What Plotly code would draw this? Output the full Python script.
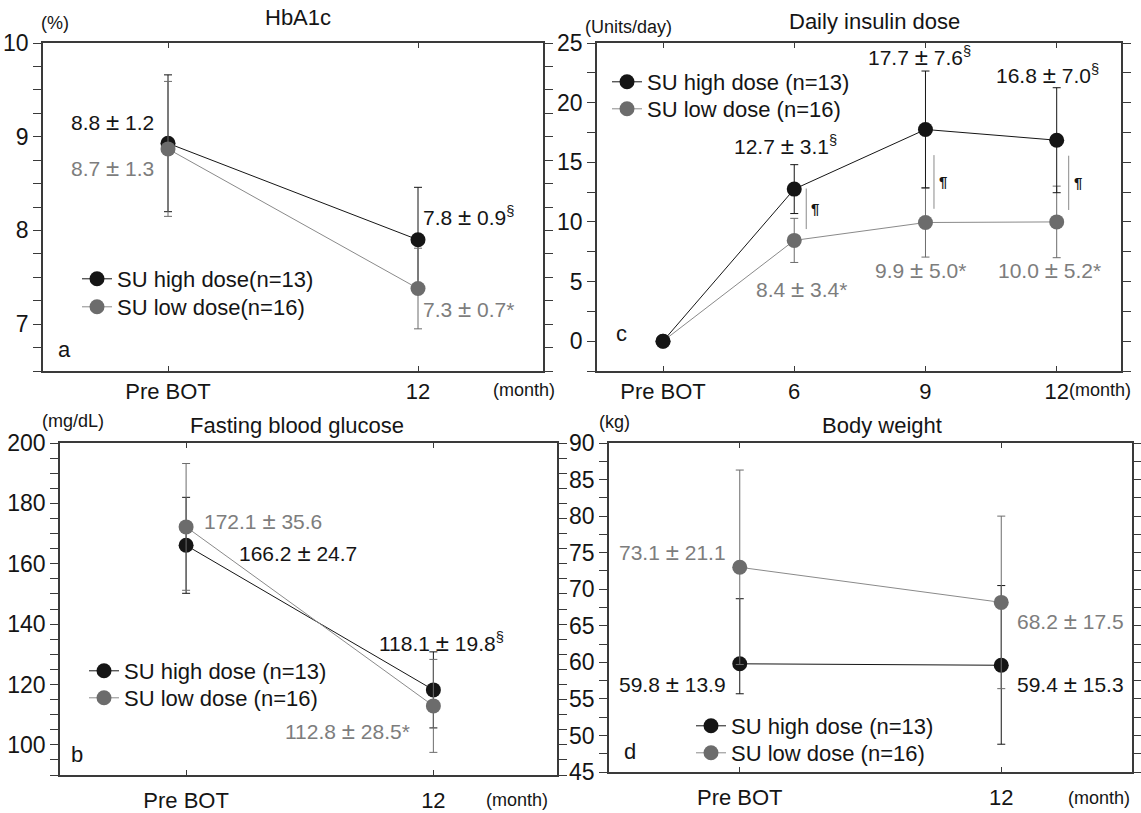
import plotly.graph_objects as go

# ---------------- data ----------------
cats_ab = ["Pre BOT", "12"]
cats_c = ["Pre BOT", "6", "9", "12"]

PM = ' <span style="font-size:24px">±</span> '

hba1c_high = [8.93, 7.90]
hba1c_high_sd = [0.73, 0.56]
hba1c_low = [8.87, 7.38]
hba1c_low_sd = [0.72, 0.43]
hba1c_high_lbl = ["8.8" + PM + "1.2", "7.8" + PM + "0.9<sup>§</sup>"]
hba1c_low_lbl = ["8.7" + PM + "1.3", "7.3" + PM + "0.7*"]

ins_high = [0.0, 12.75, 17.75, 16.85]
ins_high_sd = [0, 2.05, 4.9, 4.4]
ins_low = [0.0, 8.45, 9.95, 10.0]
ins_low_sd = [0, 1.85, 2.9, 3.0]
ins_high_lbl = ["12.7" + PM + "3.1<sup>§</sup>", "17.7" + PM + "7.6<sup>§</sup>",
                "16.8" + PM + "7.0<sup>§</sup>"]
ins_low_lbl = ["8.4" + PM + "3.4*", "9.9" + PM + "5.0*", "10.0" + PM + "5.2*"]
sig_x = [1, 2, 3]
sig_top = [12.8, 15.6, 15.55]
sig_bot = [9.4, 11.1, 11.0]

fbg_high = [166.1, 118.2]
fbg_high_sd = [15.9, 12.6]
fbg_low = [172.2, 112.9]
fbg_low_sd = [21.0, 15.4]
fbg_high_lbl = ["166.2" + PM + "24.7", "118.1" + PM + "19.8<sup>§</sup>"]
fbg_low_lbl = ["172.1" + PM + "35.6", "112.8" + PM + "28.5*"]

bw_high = [59.8, 59.6]
bw_high_sd_plus = [8.9, 10.9]
bw_high_sd_minus = [4.1, 10.8]
bw_low = [73.0, 68.2]
bw_low_sd = [13.3, 11.8]
bw_high_lbl = ["59.8" + PM + "13.9", "59.4" + PM + "15.3"]
bw_low_lbl = ["73.1" + PM + "21.1", "68.2" + PM + "17.5"]

# ---------------- style ----------------
W, H = 1141, 813
FONT = "Liberation Sans, Arial, Helvetica, sans-serif"
BLACK = "#151515"
GRAY = "#6c6c6c"
GRAY_TXT = "#7d7d7d"
LGRAY = "#8a8a8a"
AX = "#3a3a3a"


def px(x):
    return x / W


def py(y):
    return 1 - y / H


fig = go.Figure()


def add_series(n, y, sd, color, line_color, name, legend, sd_minus=None):
    xa = "x" if n == 1 else f"x{n}"
    ya = "y" if n == 1 else f"y{n}"
    ed = dict(type="data", array=sd, color=color, thickness=1, width=4, visible=True)
    if sd_minus is not None:
        ed.update(symmetric=False, arrayminus=sd_minus)
    fig.add_trace(go.Scatter(
        x=list(range(len(y))), y=y, mode="lines+markers", name=name,
        xaxis=xa, yaxis=ya,
        line=dict(color=line_color, width=1),
        marker=dict(size=15, color=color),
        error_y=ed, legend=legend, showlegend=True,
        hoverinfo="skip"))


# panel a (gray on top)
add_series(1, hba1c_high, hba1c_high_sd, BLACK, BLACK, "SU high dose(n=13)", "legend")
add_series(1, hba1c_low, hba1c_low_sd, GRAY, LGRAY, "SU low dose(n=16)", "legend2")
# panel c (black on top)
add_series(2, ins_low, ins_low_sd, GRAY, LGRAY, "SU low dose (n=16)", "legend4")
add_series(2, ins_high, ins_high_sd, BLACK, BLACK, "SU high dose (n=13)", "legend3")
# panel b
add_series(3, fbg_high, fbg_high_sd, BLACK, BLACK, "SU high dose (n=13)", "legend5")
add_series(3, fbg_low, fbg_low_sd, GRAY, LGRAY, "SU low dose (n=16)", "legend6")
# panel d
add_series(4, bw_high, bw_high_sd_plus, BLACK, BLACK, "SU high dose (n=13)", "legend7", bw_high_sd_minus)
add_series(4, bw_low, bw_low_sd, GRAY, LGRAY, "SU low dose (n=16)", "legend8")


def set_axes(n, xpix, ypix, xr, yr, dtick, minor, cats, standoff):
    sx = "" if n == 1 else str(n)
    fig.layout["xaxis" + sx] = dict(
        domain=[px(xpix[0]), px(xpix[1])], range=xr, anchor="y" + sx,
        tickmode="array", tickvals=list(range(len(cats))), ticktext=cats,
        ticks="inside", ticklen=5, tickwidth=1, tickcolor=AX,
        showline=True, linecolor=AX, linewidth=1.5, mirror="allticks",
        showgrid=False, zeroline=False, ticklabelstandoff=standoff,
        automargin=False,
        tickfont=dict(size=22, color=BLACK, family=FONT))
    fig.layout["yaxis" + sx] = dict(
        domain=[py(ypix[1]), py(ypix[0])], range=yr, anchor="x" + sx,
        dtick=dtick, tick0=0, ticks="outside", ticklen=8, tickwidth=1, tickcolor=AX,
        minor=dict(dtick=minor, tick0=0, ticks="outside", ticklen=8, tickwidth=1,
                   tickcolor=AX, showgrid=False),
        showline=True, linecolor=AX, linewidth=1.5, mirror="allticks",
        showgrid=False, zeroline=False, automargin=False,
        tickfont=dict(size=23, color=BLACK, family=FONT))


set_axes(1, (43, 543), (43, 371), [-0.5, 1.5], [6.5, 10], 1, 0.25, cats_ab, 0)
set_axes(2, (597, 1121), (43, 371), [-0.503, 3.49], [-2.5, 25], 5, 2.5, cats_c, 0)
set_axes(3, (60, 557), (443, 775), [-0.51, 1.5], [90, 200], 20, 5, cats_ab, 5)
set_axes(4, (609, 1132), (443, 772), [-0.5, 1.5], [45, 90], 5, 2.5, cats_ab, 5)


# legends: one entry each, placed by marker centre (pixels)
def legend(mx, my):
    return dict(x=px(mx - 20), y=py(my - 20), xanchor="left", yanchor="top",
                bgcolor="rgba(0,0,0,0)", borderwidth=0, itemwidth=30,
                font=dict(size=22, color=BLACK, family=FONT))


fig.update_layout(
    legend=legend(97, 278), legend2=legend(97, 306),
    legend3=legend(627, 81), legend4=legend(627, 108),
    legend5=legend(104, 670), legend6=legend(104, 697),
    legend7=legend(711, 725), legend8=legend(711, 752),
)

ann = []


def text(t, x, y, xanchor="left", color=BLACK, size=21):
    ann.append(dict(text=t, x=px(x), y=py(y), xref="paper", yref="paper",
                    xanchor=xanchor, yanchor="middle", showarrow=False,
                    font=dict(size=size, color=color, family=FONT)))


# titles
text("HbA1c", 298, 17, "center", BLACK, 22)
text("Daily insulin dose", 874, 22, "center", BLACK, 22)
text("Fasting blood glucose", 297, 425, "center", BLACK, 22)
text("Body weight", 882, 425, "center", BLACK, 22)
# units
text("(%)", 39, 23, "left", BLACK, 18)
text("(Units/day)", 583, 27, "left", BLACK, 18)
text("(mg/dL)", 40, 421, "left", BLACK, 18)
text("(kg)", 597, 422, "left", BLACK, 18)
text("(month)", 557, 390, "right", BLACK, 18)
text("(month)", 1133, 390, "right", BLACK, 18)
text("(month)", 550, 800, "right", BLACK, 18)
text("(month)", 1132, 798, "right", BLACK, 18)
# panel letters
text("a", 64, 350, "center", BLACK, 22)
text("c", 621, 333, "center", BLACK, 22)
text("b", 77, 754, "center", BLACK, 22)
text("d", 630, 751, "center", BLACK, 22)

# value labels panel a
text(hba1c_high_lbl[0], 156, 122, "right")
text(hba1c_low_lbl[0], 156, 168, "right", GRAY_TXT)
text(hba1c_high_lbl[1], 421, 217, "left")
text(hba1c_low_lbl[1], 421, 308, "left", GRAY_TXT)
# panel c
text(ins_high_lbl[0], 785, 145, "center")
text(ins_high_lbl[1], 919, 57, "center")
text(ins_high_lbl[2], 1047, 75, "center")
text(ins_low_lbl[0], 801, 288, "center", GRAY_TXT)
text(ins_low_lbl[1], 920, 270, "center", GRAY_TXT)
text(ins_low_lbl[2], 1049, 270, "center", GRAY_TXT)
# panel b
text(fbg_low_lbl[0], 202, 520, "left", GRAY_TXT)
text(fbg_high_lbl[0], 237, 552, "left")
text(fbg_high_lbl[1], 377, 642, "left")
text(fbg_low_lbl[1], 412, 730, "right", GRAY_TXT)
# panel d
text(bw_low_lbl[0], 728, 551, "right", GRAY_TXT)
text(bw_low_lbl[1], 1015, 620, "left", GRAY_TXT)
text(bw_high_lbl[0], 728, 683, "right")
text(bw_high_lbl[1], 1015, 683, "left")

# significance markers (panel c)
sig_off = [12, 8.5, 12]
for i, xv in enumerate(sig_x):
    fig.add_shape(type="line", xref="x2", yref="y2", xsizemode="pixel", xanchor=xv,
                  x0=sig_off[i], x1=sig_off[i], y0=sig_bot[i], y1=sig_top[i],
                  line=dict(color=LGRAY, width=1))
    fig.add_annotation(x=xv, y=(sig_top[i] + sig_bot[i]) / 2, xref="x2", yref="y2",
                       text="<b>¶</b>", showarrow=False, xanchor="left", yanchor="middle",
                       xshift=sig_off[i] + 3,
                       font=dict(size=15, color=BLACK, family=FONT))

for a in ann:
    fig.add_annotation(**a)

fig.update_layout(
    width=W, height=H, margin=dict(l=0, r=0, t=0, b=0, autoexpand=False),
    paper_bgcolor="white", plot_bgcolor="white",
    font=dict(family=FONT, color=BLACK),
)

fig.write_html("out.html")
